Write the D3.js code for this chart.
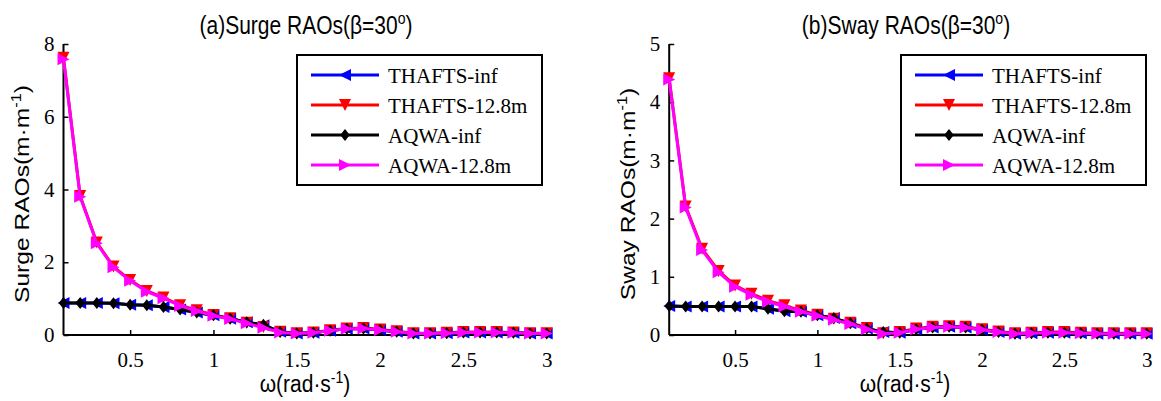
<!DOCTYPE html>
<html>
<head>
<meta charset="utf-8">
<script src="https://cdn.jsdelivr.net/npm/d3@7"></script>
<style>
  body { margin: 0; background: #fff; }
  svg { display: block; }
</style>
</head>
<body>
<div id="plot"></div>
<script>
// wave frequency (rad/s)
const omega = [0.1, 0.2, 0.3, 0.4, 0.5, 0.6, 0.7, 0.8, 0.9, 1.0,
               1.1, 1.2, 1.3, 1.4, 1.5, 1.6, 1.7, 1.8, 1.9, 2.0,
               2.1, 2.2, 2.3, 2.4, 2.5, 2.6, 2.7, 2.8, 2.9, 3.0];

const seriesNames = ["THAFTS-inf", "THAFTS-12.8m", "AQWA-inf", "AQWA-12.8m"];
const xTicks = [0.5, 1, 1.5, 2, 2.5, 3];

// (a) surge
const surgeThaftsInf = [0.88, 0.88, 0.88, 0.87, 0.83, 0.82, 0.77, 0.70, 0.62, 0.54,
                        0.45, 0.35, 0.27, 0.09, 0.04, 0.06, 0.12, 0.17, 0.18, 0.14,
                        0.09, 0.04, 0.04, 0.05, 0.07, 0.07, 0.07, 0.06, 0.04, 0.04];
const surgeThafts128 = [7.62, 3.82, 2.54, 1.88, 1.51, 1.21, 1.03, 0.82, 0.68, 0.55,
                        0.46, 0.34, 0.22, 0.09, 0.05, 0.07, 0.13, 0.18, 0.19, 0.15,
                        0.10, 0.05, 0.05, 0.06, 0.08, 0.08, 0.08, 0.07, 0.05, 0.05];
const surgeAqwaInf   = [0.88, 0.88, 0.88, 0.87, 0.83, 0.82, 0.77, 0.70, 0.62, 0.54,
                        0.45, 0.35, 0.28, 0.08, 0.04, 0.06, 0.12, 0.17, 0.18, 0.14,
                        0.09, 0.04, 0.04, 0.05, 0.07, 0.07, 0.07, 0.06, 0.04, 0.04];
const surgeAqwa128   = [7.58, 3.80, 2.52, 1.86, 1.49, 1.19, 1.01, 0.80, 0.66, 0.53,
                        0.44, 0.32, 0.20, 0.07, 0.04, 0.06, 0.12, 0.17, 0.18, 0.14,
                        0.09, 0.04, 0.04, 0.05, 0.07, 0.07, 0.07, 0.06, 0.04, 0.04];
const surgeYTicks = [0, 2, 4, 6, 8];

// (b) sway
const swayThaftsInf = [0.50, 0.49, 0.49, 0.49, 0.49, 0.49, 0.45, 0.41, 0.40, 0.34,
                       0.29, 0.20, 0.11, 0.05, 0.04, 0.10, 0.13, 0.14, 0.13, 0.09,
                       0.05, 0.02, 0.03, 0.04, 0.04, 0.03, 0.02, 0.02, 0.02, 0.02];
const swayThafts128 = [4.41, 2.21, 1.48, 1.10, 0.85, 0.71, 0.59, 0.51, 0.42, 0.35,
                       0.28, 0.21, 0.12, 0.03, 0.05, 0.11, 0.14, 0.15, 0.14, 0.10,
                       0.06, 0.03, 0.04, 0.05, 0.05, 0.04, 0.03, 0.03, 0.03, 0.03];
const swayAqwaInf   = [0.50, 0.49, 0.49, 0.49, 0.49, 0.49, 0.45, 0.41, 0.40, 0.34,
                       0.29, 0.20, 0.11, 0.05, 0.04, 0.10, 0.13, 0.14, 0.13, 0.09,
                       0.05, 0.02, 0.03, 0.04, 0.04, 0.03, 0.02, 0.02, 0.02, 0.02];
const swayAqwa128   = [4.39, 2.19, 1.46, 1.08, 0.83, 0.69, 0.57, 0.49, 0.40, 0.33,
                       0.26, 0.19, 0.10, 0.02, 0.04, 0.10, 0.13, 0.14, 0.13, 0.09,
                       0.05, 0.02, 0.03, 0.04, 0.04, 0.03, 0.02, 0.02, 0.02, 0.02];
const swayYTicks = [0, 1, 2, 3, 4, 5];

const colors = ["#0000ff", "#ff0000", "#000000", "#ff00ff"];
const sansFont = "Liberation Sans, Arial, sans-serif";
const serifFont = "Liberation Serif, Times New Roman, serif";

// marker shapes: left triangle, down triangle, diamond, right triangle
function markerPath(kind, s) {
    if (kind === 0) return `M${-s},0L${s},${-s}L${s},${s}Z`;
    if (kind === 1) return `M${-s},${-s}L${s},${-s}L0,${s}Z`;
    if (kind === 2) return `M0,${-s}L${s * 0.8},0L0,${s}L${-s * 0.8},0Z`;
    return `M${s},0L${-s},${-s}L${-s},${s}Z`;
}

const svg = d3.select("#plot")
    .append("svg")
    .attr("width", 1161)
    .attr("height", 401);

// text with a superscript piece, slightly stretched vertically like the source figure
function supText(parent, transform, before, sup, after) {
    const t = parent.append("g")
        .attr("transform", transform)
        .append("text")
        .attr("text-anchor", "middle")
        .attr("font-family", sansFont)
        .attr("font-size", 21);
    t.append("tspan").text(before);
    t.append("tspan").attr("dy", -8).attr("font-size", 14).text(sup);
    t.append("tspan").attr("dy", 8).text(after);
}

function drawPanel(cfg) {
    const x = d3.scaleLinear().domain([0.1, 3]).range([cfg.left, cfg.right]);
    const y = d3.scaleLinear().domain([0, cfg.yMax]).range([335, 44]);
    const g = svg.append("g");

    // axes (ticks inward, no box)
    g.append("g")
        .attr("transform", "translate(0,335)")
        .call(d3.axisBottom(x).tickValues(xTicks).tickSize(-5).tickPadding(17).tickFormat(d3.format("")))
        .call(a => a.select(".domain").attr("d", `M${cfg.left},0H${cfg.right}`));
    g.append("g")
        .attr("transform", `translate(${cfg.left},0)`)
        .call(d3.axisLeft(y).tickValues(cfg.yTicks).tickSize(-5).tickPadding(9).tickFormat(d3.format("")))
        .call(a => a.select(".domain").attr("d", "M0,335V44"));
    g.selectAll(".domain").attr("stroke", "#000").attr("stroke-width", 2);
    g.selectAll(".tick line").attr("stroke", "#000").attr("stroke-width", 1.5);
    g.selectAll(".tick text")
        .attr("font-family", serifFont)
        .attr("font-size", 21)
        .attr("fill", "#000");

    const line = d3.line().x(d => x(d[0])).y(d => y(d[1]));
    cfg.series.forEach((vals, i) => {
        const pts = omega.map((w, k) => [w, vals[k]]);
        g.append("path")
            .datum(pts)
            .attr("fill", "none")
            .attr("stroke", colors[i])
            .attr("stroke-width", 3)
            .attr("d", line);
        g.selectAll(null)
            .data(pts)
            .enter().append("path")
            .attr("transform", d => `translate(${x(d[0])},${y(d[1])})`)
            .attr("d", markerPath(i, 6))
            .attr("fill", colors[i]);
    });

    supText(g, `translate(${cfg.titleX},34) scale(1,1.2)`, cfg.title + "(β=30", "o", ")");
    supText(g, `translate(${cfg.xLabelX},392) scale(1,1.15)`, "ω(rad·s", "-1", ")");
    supText(g, `translate(${cfg.yLabelX},194) rotate(-90) scale(1.17,1)`, cfg.yLabel + "(m·m", "-1", ")");

    // legend
    const lg = g.append("g").attr("transform", `translate(${cfg.legendX},55)`);
    lg.append("rect")
        .attr("width", cfg.legendW)
        .attr("height", 130)
        .attr("fill", "#fff")
        .attr("stroke", "#000")
        .attr("stroke-width", 2);
    seriesNames.forEach((name, i) => {
        const row = lg.append("g").attr("transform", `translate(0,${20 + i * 30})`);
        row.append("line")
            .attr("x1", 14).attr("x2", 82)
            .attr("stroke", colors[i]).attr("stroke-width", 3);
        row.append("path")
            .attr("transform", "translate(48,0)")
            .attr("d", markerPath(i, 6))
            .attr("fill", colors[i]);
        row.append("text")
            .attr("x", 91)
            .attr("y", 8)
            .attr("font-family", serifFont)
            .attr("font-size", 21)
            .text(name);
    });
}

drawPanel({
    left: 63.5, right: 546.7, yMax: 8, yTicks: surgeYTicks,
    series: [surgeThaftsInf, surgeThafts128, surgeAqwaInf, surgeAqwa128],
    title: "(a)Surge RAOs", titleX: 306,
    yLabel: "Surge RAOs", yLabelX: 29,
    xLabelX: 305,
    legendX: 297, legendW: 245
});

drawPanel({
    left: 669.2, right: 1146.7, yMax: 5, yTicks: swayYTicks,
    series: [swayThaftsInf, swayThafts128, swayAqwaInf, swayAqwa128],
    title: "(b)Sway RAOs", titleX: 906,
    yLabel: "Sway RAOs", yLabelX: 635,
    xLabelX: 905,
    legendX: 901, legendW: 245
});
</script>
</body>
</html>
